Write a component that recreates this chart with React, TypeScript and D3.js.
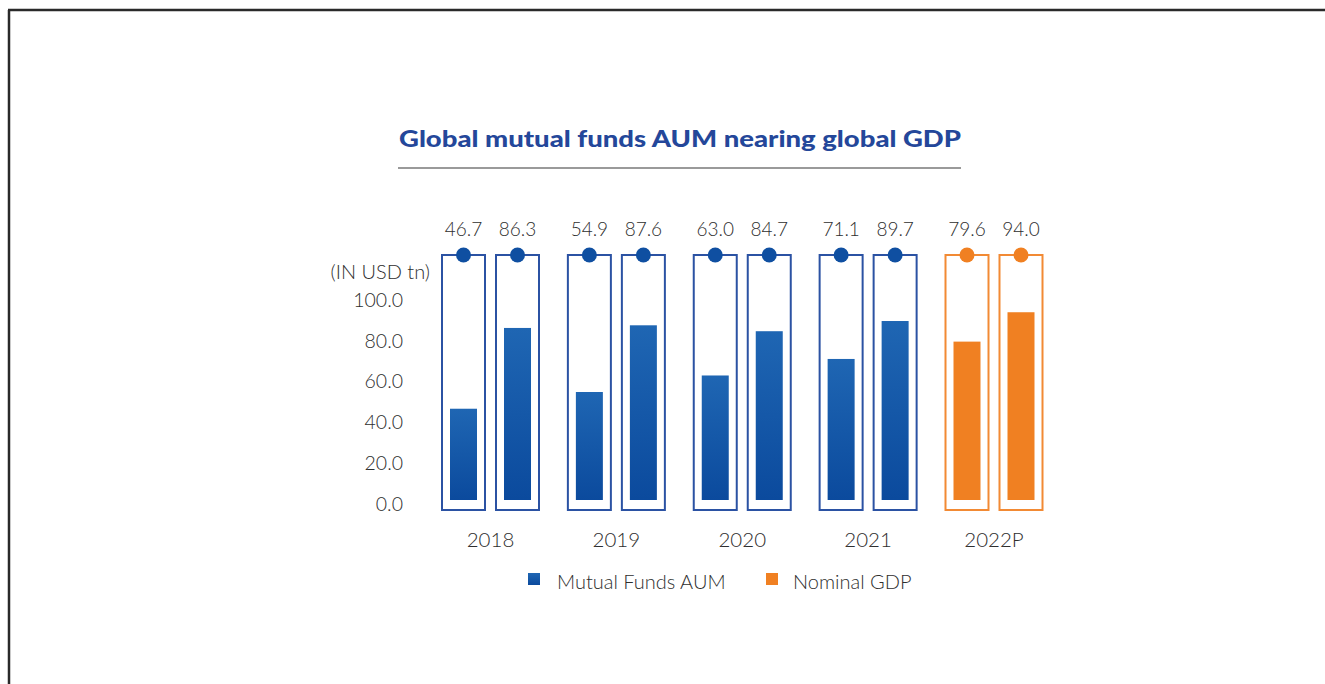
import React from "react";
import * as d3 from "d3";

const years = ["2018", "2019", "2020", "2021", "2022P"];
const mutualFundsAUM = [46.7, 54.9, 63.0, 71.1, 79.6];
const nominalGDP = [86.3, 87.6, 84.7, 89.7, 94.0];
const projected = [false, false, false, false, true];
const yTicks = [0, 20, 40, 60, 80, 100];
const seriesNames = ["Mutual Funds AUM", "Nominal GDP"];

const FONT = "'Century Gothic', 'Lato', 'Open Sans', sans-serif";
const BLUE_TOP = "#1f66b3";
const BLUE_BOT = "#0b4a9d";
const BLUE_STROKE = "#2b52a3";
const BLUE_DOT = "#0f4fa1";
const ORANGE = "#f08022";
const ORANGE_STROKE = "#f28a34";
const TEXT = "#2e2e2e";

export default function App() {
  const W = 1325;
  const H = 684;
  const x = d3.scalePoint<string>().domain(years).range([490.5, 994]);
  const y = d3.scaleLinear().domain([0, 100]).range([504, 300]);
  const boxW = 43;
  const innerW = 27;
  const boxGap = 11;
  const boxTop = 255;
  const boxBottom = 510;
  const barBaseInset = 4;

  return (
    <svg width={W} height={H} style={{ position: "absolute", left: 0, top: 0, display: "block" }} fontFamily={FONT}>
      <defs>
        <linearGradient id="blueGrad" x1="0" y1="0" x2="0" y2="1">
          <stop offset="0%" stopColor={BLUE_TOP} />
          <stop offset="100%" stopColor={BLUE_BOT} />
        </linearGradient>
      </defs>
      <rect x={0} y={0} width={W} height={H} fill="#fff" />
      <line x1={8} y1={10} x2={W} y2={10} stroke="#2a2a2a" strokeWidth={2.5} />
      <line x1={9} y1={10} x2={9} y2={H} stroke="#2a2a2a" strokeWidth={2.5} />

      <text x={680} y={147} textAnchor="middle" fontSize={23} fontWeight={900} fill="#24479a" textLength={562} lengthAdjust="spacingAndGlyphs">
        Global mutual funds AUM nearing global GDP
      </text>
      <line x1={398} y1={168} x2={961} y2={168} stroke="#9a9a9a" strokeWidth={2} />

      <text x={430} y={272} dy="0.35em" textAnchor="end" fontSize={20} fill={TEXT} fontWeight={300}>(IN USD tn)</text>
      {yTicks.map((t) => (
        <text key={t} x={403} y={y(t)} dy="0.35em" textAnchor="end" fontSize={19.5} fill={TEXT} fontWeight={300}>
          {t.toFixed(1)}
        </text>
      ))}

      {years.map((yr, i) => {
        const center = x(yr)!;
        const vals = [mutualFundsAUM[i], nominalGDP[i]];
        const isP = projected[i];
        return (
          <g key={yr}>
            {vals.map((v, j) => {
              const bx = center + (j === 0 ? -boxGap / 2 - boxW : boxGap / 2);
              const cx = bx + boxW / 2;
              return (
                <g key={j}>
                  <rect x={bx} y={boxTop} width={boxW} height={boxBottom - boxTop} fill="none" stroke={isP ? ORANGE_STROKE : BLUE_STROKE} strokeWidth={2} />
                  <rect x={cx - innerW / 2} y={y(v)} width={innerW} height={y(0) - barBaseInset - y(v)} fill={isP ? ORANGE : "url(#blueGrad)"} />
                  <circle cx={cx} cy={boxTop} r={7.5} fill={isP ? ORANGE : BLUE_DOT} />
                  <text x={cx} y={229} dy="0.35em" textAnchor="middle" fontSize={19} fill={TEXT} fontWeight={300}>
                    {v.toFixed(1)}
                  </text>
                </g>
              );
            })}
            <text x={center} y={540} dy="0.35em" textAnchor="middle" fontSize={20.5} fill={TEXT} fontWeight={300}>
              {yr}
            </text>
          </g>
        );
      })}

      <g>
        <rect x={528} y={573} width={12} height={12} fill="url(#blueGrad)" />
        <text x={557} y={582} dy="0.35em" fontSize={20} fill={TEXT} fontWeight={300}>{seriesNames[0]}</text>
        <rect x={766} y={573} width={12} height={12} fill={ORANGE} />
        <text x={793} y={582} dy="0.35em" fontSize={20} fill={TEXT} fontWeight={300}>{seriesNames[1]}</text>
      </g>
    </svg>
  );
}
